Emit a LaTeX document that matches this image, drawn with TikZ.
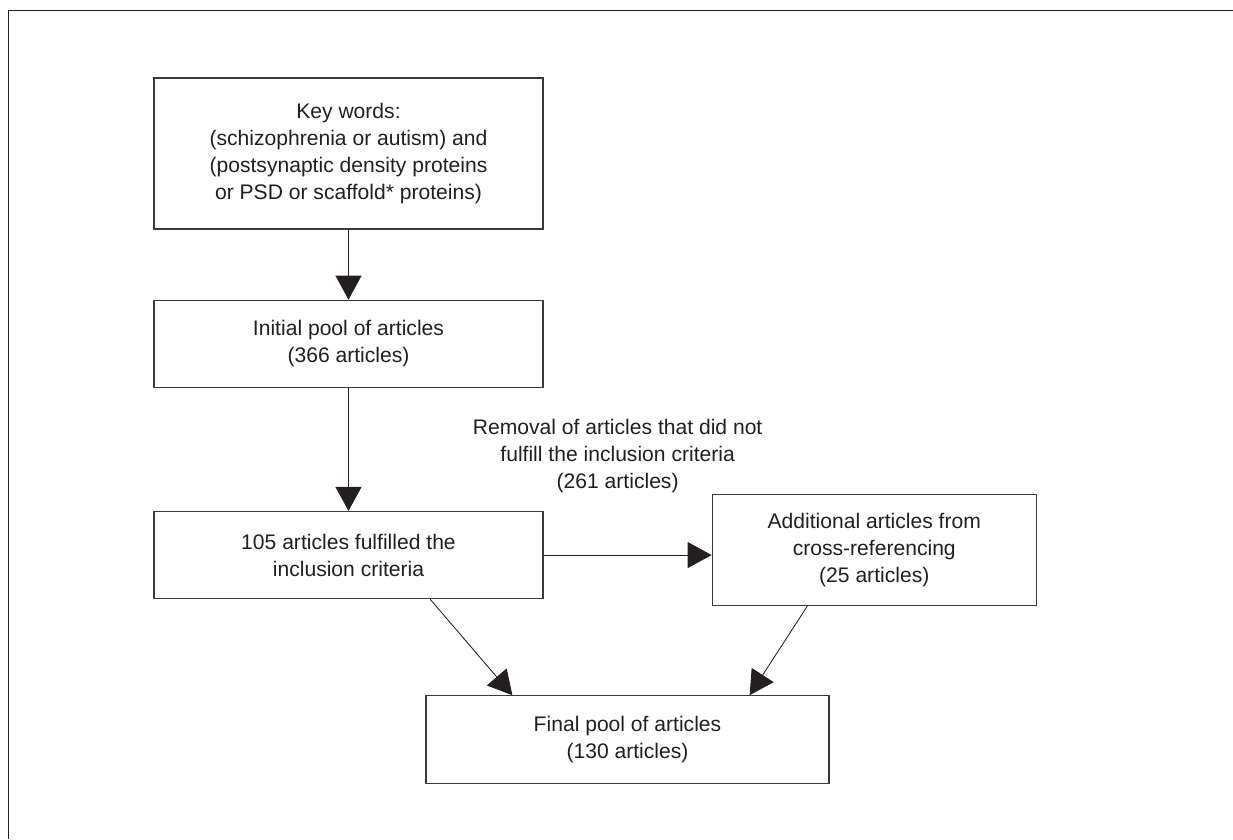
\documentclass[tikz,border=0pt]{standalone}
\usepackage{fontspec}
\setmainfont{Liberation Sans}
\usepackage{tikz}
\usetikzlibrary{arrows.meta,positioning,calc}
\definecolor{ink}{HTML}{231F20}
\definecolor{edge}{HTML}{3A3A3A}

\begin{document}
\begin{tikzpicture}[>={Triangle[length=0.6cm,width=0.65cm]},
 box/.style={draw=edge,line width=0.9pt,align=center,text=ink,inner sep=0pt,
 minimum width=9.725cm,font=\fontsize{15}{19.2}\selectfont},
 lbl/.style={align=center,text=ink,inner sep=0pt,font=\fontsize{15}{19.2}\selectfont},
 arr/.style={->,draw=ink,line width=0.6pt,color=ink}]
\useasboundingbox (0,0) rectangle (30.825,-20.975);
\draw[ink,line width=1.3pt] (0.2125,-20.975) |- (30.825,-0.2625);
\node[box,minimum height=3.775cm] (key) at (8.7125,-3.8375)
 {Key words:\\(schizophrenia or autism) and\\(postsynaptic density proteins\\or PSD or scaffold* proteins)};
\node[box,minimum height=2.175cm,below=1.75cm of key] (init)
 {Initial pool of articles\\(366 articles)};
\node[box,minimum height=2.175cm,below=3.075cm of init] (inc)
 {105 articles fulfilled the\\inclusion criteria};
\node[box,minimum width=8.1cm,minimum height=2.775cm,right=4.2cm of inc,yshift=0.125cm] (add)
 {Additional articles from\\cross-referencing\\(25 articles)};
\node[box,minimum width=10.075cm,minimum height=2.2cm,below=2.4cm of inc,xshift=6.975cm] (fin)
 {Final pool of articles\\(130 articles)};
\draw[arr] (key) -- (init);
\draw[arr] (init) -- (inc);
\draw[arr] (inc.east) -- node[lbl,above=1.55cm,xshift=-0.25cm] (rem)
 {Removal of articles that did not\\fulfill the inclusion criteria\\(261 articles)} (inc.east -| add.west);
\draw[arr] ($(inc.south)+(2.04,0)$) -- ($(fin.north west)+(2.175,0)$);
\draw[arr] ($(add.south)+(-1.675,0)$) -- ($(fin.north east)+(-2,0)$);
\end{tikzpicture}
\end{document}
